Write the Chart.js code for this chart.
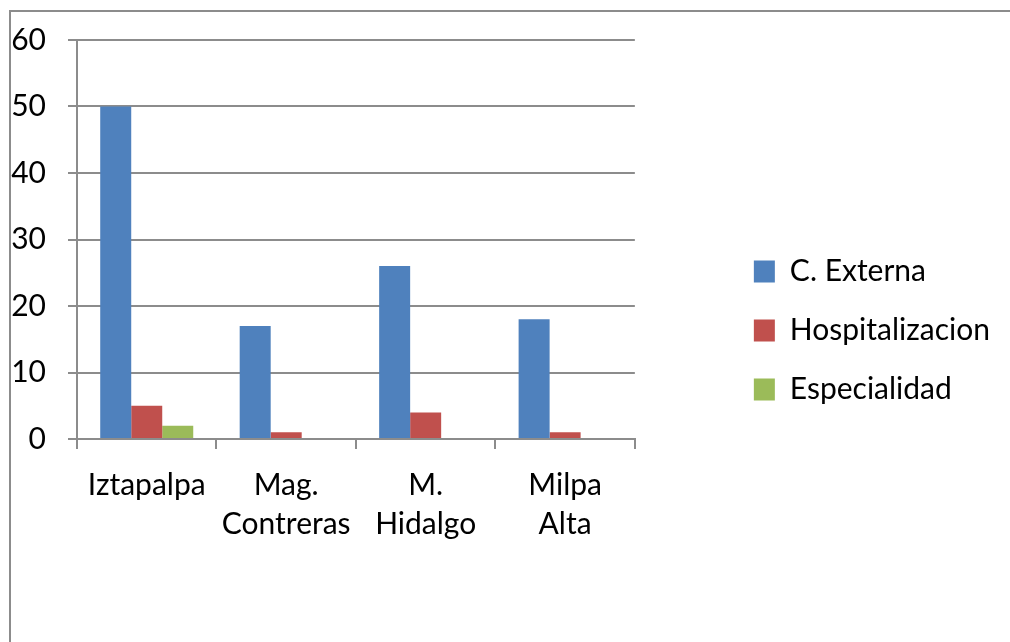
<!DOCTYPE html>
<html>
<head>
<meta charset="utf-8">
<script src="https://cdn.jsdelivr.net/npm/chart.js@4.4.1/dist/chart.umd.min.js"></script>
<style>
  html, body { margin: 0; padding: 0; background: #ffffff; overflow: hidden; }
  #frame { position: absolute; left: 9px; top: 10px; width: 1200px; height: 1000px;
           border-left: 2px solid #8c8c8c; border-top: 2px solid #8c8c8c; }
  #c { position: absolute; left: 0; top: 0; }
</style>
</head>
<body>
<div id="frame"></div>
<canvas id="c" width="1010" height="642"></canvas>
<script>
const categories = ['Iztapalpa', ['Mag.', 'Contreras'], ['M.', 'Hidalgo'], ['Milpa', 'Alta']];
const seriesNames = ['C. Externa', 'Hospitalizacion', 'Especialidad'];
const cExterna = [50, 17, 26, 18];
const hospitalizacion = [5, 1, 4, 1];
const especialidad = [2, 0, 0, 0];
const yTicks = [0, 10, 20, 30, 40, 50, 60];

const colors = ['#4F81BD', '#C0504D', '#9BBB59'];
const seriesValues = [cExterna, hospitalizacion, especialidad];
const gridColor = '#8c8c8c';
const FONT = 'Lato';

function draw() {
  Chart.defaults.font.family = FONT;
  Chart.defaults.color = '#000000';
  new Chart(document.getElementById('c'), {
    type: 'bar',
    data: {
      labels: categories,
      datasets: seriesNames.map((n, i) => ({
        label: n,
        data: seriesValues[i],
        backgroundColor: colors[i],
        borderWidth: 0,
        categoryPercentage: 0.667,
        barPercentage: 1.0
      }))
    },
    options: {
      responsive: false,
      animation: false,
      devicePixelRatio: 1,
      layout: { padding: { left: 0, top: 38, right: 10, bottom: 19 } },
      plugins: {
        tooltip: { enabled: false },
        legend: {
          position: 'right',
          maxWidth: 400,
          labels: {
            font: { family: FONT, size: 30 },
            boxWidth: 21,
            boxHeight: 22,
            padding: 29,
            color: '#000000'
          }
        }
      },
      scales: {
        x: {
          grid: { display: true, drawOnChartArea: false, drawTicks: true, tickLength: 10,
                  color: gridColor, lineWidth: 2, offset: true },
          border: { display: true, color: gridColor, width: 2 },
          ticks: { font: { family: FONT, size: 30, lineHeight: 1.3 }, padding: 17,
                   maxRotation: 0, autoSkip: false, color: '#000000' },
          afterFit: s => { s.height = 642 - 19 - 439; }
        },
        y: {
          min: 0, max: 60,
          afterBuildTicks: s => { s.ticks = yTicks.map(v => ({ value: v })); },
          grid: { color: gridColor, lineWidth: 2, drawTicks: true, tickLength: 9 },
          border: { display: true, color: gridColor, width: 2 },
          ticks: { font: { family: FONT, size: 30 }, padding: 22, color: '#000000' },
          afterFit: s => { s.width = 77; }
        },
        y2: {
          type: 'linear',
          position: 'right',
          display: true,
          grid: { display: false, drawTicks: false },
          border: { display: false },
          ticks: { display: false },
          afterFit: s => { s.width = 90; }
        }
      }
    }
  });
}

if (document.fonts && document.fonts.load) {
  document.fonts.load('30px ' + FONT).then(draw, draw);
} else {
  draw();
}
</script>
</body>
</html>
